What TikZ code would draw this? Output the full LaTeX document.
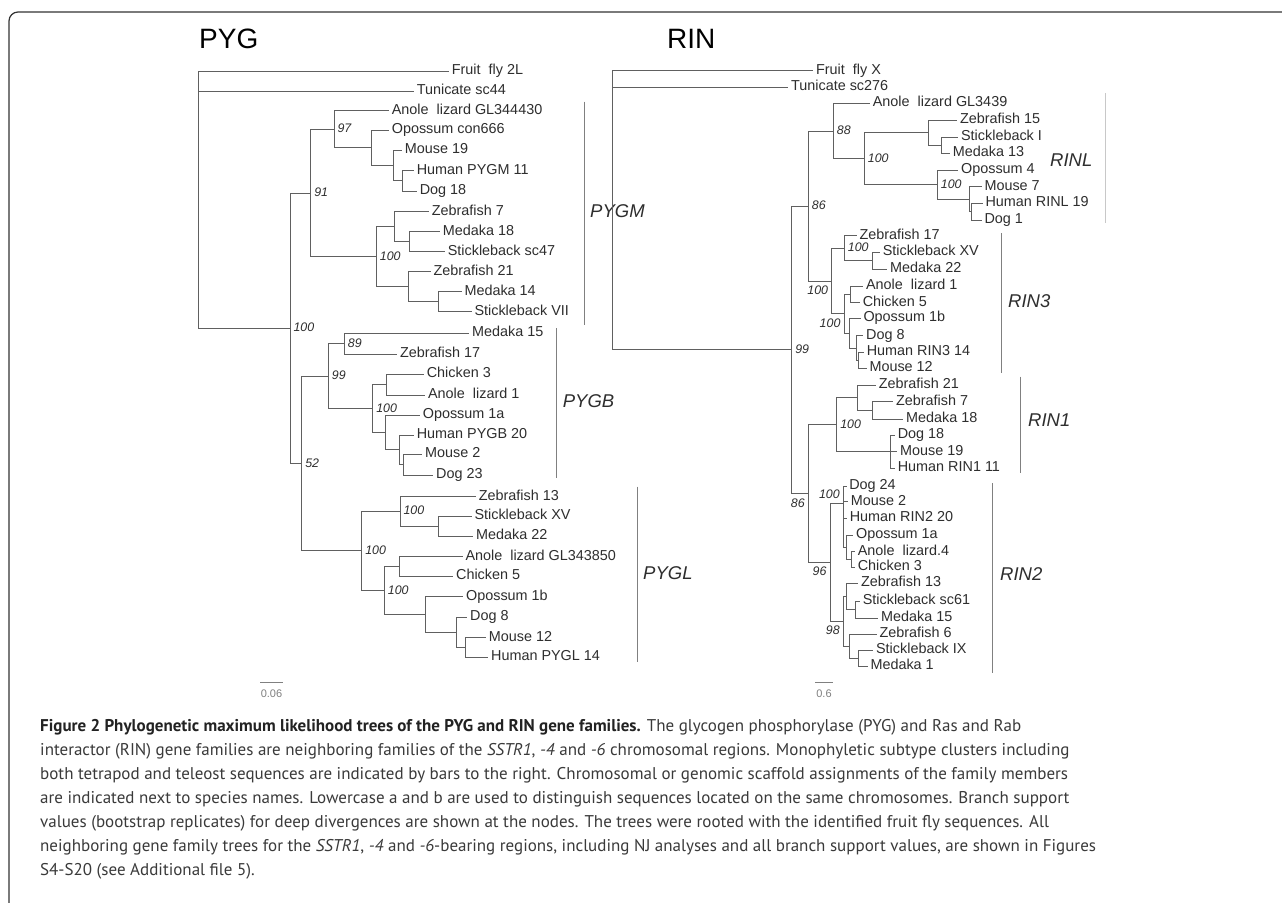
\documentclass[tikz,border=0pt]{standalone}
\usepackage{fontspec}
\setmainfont{Liberation Sans}
\newfontfamily\capfont{PT Sans}
\usetikzlibrary{calc}
\definecolor{treecol}{HTML}{606060}
\definecolor{txtcol}{HTML}{2E2E2E}
\definecolor{barcol}{HTML}{808080}
\definecolor{barlight}{HTML}{C8C8C8}
\definecolor{framecol}{HTML}{333333}
\definecolor{captxt}{HTML}{3A3A3A}
\definecolor{capbold}{HTML}{222222}
\newcommand\inode[4]{%
  \path ($(#3)!.5!(#4)$) coordinate (m#1);
  \coordinate (#1) at (#2,0 |- m#1);
  \draw[br] (#1) |- (#3);
  \draw[br] (#1) |- (#4);
}
\begin{document}
\begin{tikzpicture}[x=1pt,y=-1pt,
  br/.style={draw=treecol,line width=0.9pt},
  leaf/.style={anchor=west,inner xsep=2.6pt,inner ysep=0pt,text height=0.72em,text depth=0pt,font=\fontsize{14.4}{16}\selectfont,text=txtcol},
  bs/.style={inner sep=0.8pt,text height=0.72em,text depth=0pt,font=\fontsize{12.4}{14}\selectfont\itshape,text=txtcol},
  bsr/.style={bs,anchor=west,xshift=2.6pt},
  bsl/.style={bs,anchor=east,xshift=-2.6pt,yshift=-10pt},
  bsa/.style={bs,anchor=east,xshift=-2.6pt,yshift=8.3pt},
  clade/.style={anchor=west,inner sep=0pt,text height=0.72em,text depth=0pt,font=\fontsize{18.5}{20}\selectfont\itshape,text=txtcol},
  cbar/.style={draw=barcol,line width=0.9pt},
  ttlstyle/.style={anchor=base west,inner sep=0pt,font=\fontsize{28}{30}\selectfont,text=black},
  scalelab/.style={inner sep=0pt,font=\fontsize{11}{12}\selectfont,text=barcol},
  capline/.style={anchor=base west,inner sep=0pt,font=\capfont\fontsize{17}{20}\selectfont,text=captxt}
]
\useasboundingbox (0,0) rectangle (1282,902);
\fill[white] (0,0) rectangle (1282,902);
% frame
\draw[framecol,line width=1.2pt,rounded corners=9pt] (1300,12) -- (9,12) -- (9,915);

% titles
\node[ttlstyle] (tPYG) at (199,48) {PYG};
\node[ttlstyle] (tRIN) at (667,48) {RIN};

% ---------------- PYG tree ----------------
\node[leaf] (pA) at (449,71) {Fruit\ \ fly 2L};
\node[leaf] (pB) at (414,91) {Tunicate sc44};
\node[leaf] (pC) at (389,110.7) {Anole\ \ lizard GL344430};
\node[leaf] (pD) at (389,130.3) {Opossum con666};
\node[leaf] (pE) at (402,150.3) {Mouse 19};
\node[leaf] (pF) at (414,170.7) {Human PYGM 11};
\node[leaf] (pG) at (417,191) {Dog 18};
\node[leaf] (pH) at (429,211.7) {Zebrafish 7};
\node[leaf] (pI) at (440,231.7) {Medaka 18};
\node[leaf] (pJ) at (445,251.7) {Stickleback sc47};
\node[leaf] (pK) at (430.7,271.7) {Zebrafish 21};
\node[leaf] (pL) at (461.7,291.7) {Medaka 14};
\node[leaf] (pM) at (471.7,311.7) {Stickleback VII};
\node[leaf] (pN) at (469.3,333.3) {Medaka 15};
\node[leaf] (pO) at (397.3,354.3) {Zebrafish 17};
\node[leaf] (pP) at (424,374.3) {Chicken 3};
\node[leaf] (pQ) at (425.3,395) {Anole\ \ lizard 1};
\node[leaf] (pR) at (420,415) {Opossum 1a};
\node[leaf] (pS) at (414,435) {Human PYGB 20};
\node[leaf] (pT) at (422.3,454.3) {Mouse 2};
\node[leaf] (pU) at (433.3,475) {Dog 23};
\node[leaf] (pV) at (476,496.7) {Zebrafish 13};
\node[leaf] (pW) at (471.7,516) {Stickleback XV};
\node[leaf] (pX) at (473.3,536) {Medaka 22};
\node[leaf] (pY) at (462.7,556.7) {Anole\ \ lizard GL343850};
\node[leaf] (pZ) at (453.3,576.3) {Chicken 5};
\node[leaf] (pAA) at (463.3,596.5) {Opossum 1b};
\node[leaf] (pAB) at (467.3,617) {Dog 8};
\node[leaf] (pAC) at (486,637.5) {Mouse 12};
\node[leaf] (pAD) at (488.3,657.3) {Human PYGL 14};

\inode{q1}{402}{pF.west}{pG.west}
\inode{q2}{393}{pE.west}{q1}
\inode{q3}{371}{pD.west}{q2}
\inode{q4}{334}{pC.west}{q3}
\inode{q5}{409.7}{pI.west}{pJ.west}
\inode{q6}{394}{pH.west}{q5}
\inode{q7}{438.3}{pL.west}{pM.west}
\inode{q8}{408}{pK.west}{q7}
\inode{q9}{376.3}{q6}{q8}
\inode{q10}{310.7}{q4}{q9}
\inode{q11}{344.3}{pN.west}{pO.west}
\inode{q12}{386.7}{pP.west}{pQ.west}
\inode{q13}{403.3}{pT.west}{pU.west}
\inode{q14}{399.3}{pS.west}{q13}
\inode{q15}{385.7}{pR.west}{q14}
\inode{q16}{372.7}{q12}{q15}
\inode{q17}{328.3}{q11}{q16}
\inode{q18}{438.3}{pW.west}{pX.west}
\inode{q19}{400}{pV.west}{q18}
\inode{q20}{399}{pY.west}{pZ.west}
\inode{q21}{465}{pAC.west}{pAD.west}
\inode{q22}{456.7}{pAB.west}{q21}
\inode{q23}{425}{pAA.west}{q22}
\inode{q24}{384.3}{q20}{q23}
\inode{q25}{361.7}{q19}{q24}
\inode{q26}{301.7}{q17}{q25}
\inode{q27}{290}{q10}{q26}
\inode{q0}{198.5}{pA.west}{q27}
\draw[br] (q0) |- (pB.west);

\node[bsr] (lq4) at (q4) {97};
\node[bsr] (lq10) at (q10) {91};
\node[bsr] (lq9) at (q9) {100};
\node[bsr] (lq27) at (q27) {100};
\node[bsr] (lq26) at (q26) {52};
\node[bsr] (lq17) at (q17) {99};
\node[bsr] (lq11) at (q11) {89};
\node[bsr] (lq16) at (q16) {100};
\node[bsr] (lq25) at (q25) {100};
\node[bsr] (lq19) at (q19) {100};
\node[bsr] (lq24) at (q24) {100};

% PYG clade bars
\coordinate (bMt) at (584,101.7); \coordinate (bMb) at (584,325);
\draw[cbar] (bMt) -- (bMb);
\node[clade] (cPYGM) at (590,214) {PYGM};
\coordinate (bBt) at (556.7,328.3); \coordinate (bBb) at (556.7,478.3);
\draw[cbar] (bBt) -- (bBb);
\node[clade] (cPYGB) at (562.7,404) {PYGB};
\coordinate (bLt) at (637.7,486.7); \coordinate (bLb) at (637.7,661.7);
\draw[cbar] (bLt) -- (bLb);
\node[clade] (cPYGL) at (643,576) {PYGL};

% PYG scale
\coordinate (sPa) at (260,682); \coordinate (sPb) at (283,682);
\draw[cbar,line width=0.8pt] (sPa) -- (sPb);
\node[scalelab] (sP) at (271.5,694) {0.06};

% ---------------- RIN tree ----------------
\node[leaf] (rA) at (813.3,70.7) {Fruit\ \ fly X};
\node[leaf] (rB) at (788.3,87.3) {Tunicate sc276};
\node[leaf] (rC) at (870,103.3) {Anole\ \ lizard GL3439};
\node[leaf] (rD) at (957.3,120) {Zebrafish 15};
\node[leaf] (rE) at (958.3,137.3) {Stickleback I};
\node[leaf] (rF) at (950,153.3) {Medaka 13};
\node[leaf] (rG) at (958.3,170) {Opossum 4};
\node[leaf] (rH) at (981.7,186.7) {Mouse 7};
\node[leaf] (rI) at (982.7,203.3) {Human RINL 19};
\node[leaf] (rJ) at (981.7,220) {Dog 1};
\node[leaf] (rK) at (856.7,235.7) {Zebrafish 17};
\node[leaf] (rL) at (880,252.3) {Stickleback XV};
\node[leaf] (rM) at (887.3,269) {Medaka 22};
\node[leaf] (rN) at (863.3,286) {Anole\ \ lizard 1};
\node[leaf] (rO) at (860,302.7) {Chicken 5};
\node[leaf] (rP) at (860.7,318.3) {Opossum 1b};
\node[leaf] (rQ) at (863.3,335.7) {Dog 8};
\node[leaf] (rR) at (864,352.3) {Human RIN3 14};
\node[leaf] (rS) at (866.7,368.3) {Mouse 12};
\node[leaf] (rT) at (876,385) {Zebrafish 21};
\node[leaf] (rU) at (893.3,401.7) {Zebrafish 7};
\node[leaf] (rV) at (903.3,419) {Medaka 18};
\node[leaf] (rW) at (895,435) {Dog 18};
\node[leaf] (rX) at (897.3,451.7) {Mouse 19};
\node[leaf] (rY) at (895,468.3) {Human RIN1 11};
\node[leaf] (rZ) at (846.5,486) {Dog 24};
\node[leaf] (rAA) at (848,501.7) {Mouse 2};
\node[leaf] (rAB) at (847,518.3) {Human RIN2 20};
\node[leaf] (rAC) at (853.3,535) {Opossum 1a};
\node[leaf] (rAD) at (855,551.7) {Anole\ \ lizard.4};
\node[leaf] (rAE) at (855,567.3) {Chicken 3};
\node[leaf] (rAF) at (858.3,583.3) {Zebrafish 13};
\node[leaf] (rAG) at (860,601) {Stickleback sc61};
\node[leaf] (rAH) at (878.3,618.3) {Medaka 15};
\node[leaf] (rAI) at (876.7,634.3) {Zebrafish 6};
\node[leaf] (rAJ) at (873.3,650) {Stickleback IX};
\node[leaf] (rAK) at (867.7,666) {Medaka 1};

\inode{s1}{941.7}{rE.west}{rF.west}
\inode{s2}{928.3}{rD.west}{s1}
\inode{s3}{971.7}{rI.west}{rJ.west}
\inode{s4}{969.3}{rH.west}{s3}
\inode{s5}{937.3}{rG.west}{s4}
\inode{s6}{864.3}{s2}{s5}
\inode{s7}{833.3}{rC.west}{s6}
\inode{s8}{872.7}{rL.west}{rM.west}
\inode{s9}{844.3}{rK.west}{s8}
\inode{s10}{850}{rN.west}{rO.west}
\inode{s11}{858.5}{rR.west}{rS.west}
\inode{s12}{856.7}{rQ.west}{s11}
\inode{s13}{849.3}{rP.west}{s12}
\inode{s14}{844}{s10}{s13}
\inode{s15}{831.7}{s9}{s14}
\inode{s16}{808.3}{s7}{s15}
\inode{s17}{872.7}{rU.west}{rV.west}
\inode{s18}{857.7}{rT.west}{s17}
\inode{s19}{890}{rW.west}{rY.west}
\draw[br] (s19) |- (rX.west);
\inode{s20}{836.7}{s18}{s19}
\inode{s22}{851.7}{rAD.west}{rAE.west}
\inode{s23}{846.7}{rAC.west}{s22}
\coordinate (s24) at (843.3,503.3);
\draw[br] (s24) |- (rZ.west);
\draw[br] (s24) |- (rAA.west);
\draw[br] (s24) |- (rAB.west);
\draw[br] (s24) |- (s23);
\inode{s25}{858}{rAJ.west}{rAK.west}
\inode{s26}{849.3}{rAI.west}{s25}
\inode{s27}{855}{rAG.west}{rAH.west}
\inode{s28}{846}{rAF.west}{s27}
\inode{s29}{843.3}{s28}{s26}
\inode{s30}{830}{s24}{s29}
\inode{s31}{808.3}{s20}{s30}
\inode{s32}{791.7}{s16}{s31}
\inode{s0}{612}{rA.west}{s32}
\draw[br] (s0) |- (rB.west);

\node[bsr] (ls5) at (s5) {100};
\node[bsr] (ls6) at (s6) {100};
\node[bsr] (ls7) at (s7) {88};
\node[bsr] (ls16) at (s16) {86};
\node[bsr] (ls9) at (s9) {100};
\node[bsr] (ls32) at (s32) {99};
\node[bsr] (ls20) at (s20) {100};
\node[bsl] (ls15) at (s15) {100};
\node[bsl] (ls14) at (s14) {100};
\node[bsl] (ls31) at (s31) {86};
\node[bsl] (ls30) at (s30) {96};
\node[bsl] (ls29) at (s29) {98};
\node[bsa] (ls24) at (s24) {100};

% RIN clade bars
\coordinate (bRLt) at (1105,93); \coordinate (bRLb) at (1105,223);
\draw[draw=barlight,line width=0.9pt] (bRLt) -- (bRLb);
\node[clade] (cRINL) at (1050,162.7) {RINL};
\coordinate (bR3t) at (1001.7,233.3); \coordinate (bR3b) at (1001.7,373.3);
\draw[cbar] (bR3t) -- (bR3b);
\node[clade] (cRIN3) at (1008,304) {RIN3};
\coordinate (bR1t) at (1020.7,376.7); \coordinate (bR1b) at (1020.7,473.3);
\draw[cbar] (bR1t) -- (bR1b);
\node[clade] (cRIN1) at (1028,423.3) {RIN1};
\coordinate (bR2t) at (992.7,483.3); \coordinate (bR2b) at (992.7,673);
\draw[cbar] (bR2t) -- (bR2b);
\node[clade] (cRIN2) at (1000,576.7) {RIN2};

% RIN scale
\coordinate (sRa) at (815,682); \coordinate (sRb) at (833,682);
\draw[cbar,line width=0.8pt] (sRa) -- (sRb);
\node[scalelab] (sR) at (824,694) {0.6};

% ---------------- caption ----------------
\node[capline] (c1) at (40,731) {{\color{capbold}\bfseries Figure 2 Phylogenetic maximum likelihood trees of the PYG and RIN gene families.} The glycogen phosphorylase (PYG) and Ras and Rab};
\node[capline] (c2) at (40,755) {interactor (RIN) gene families are neighboring families of the \textit{SSTR1}, \textit{-4} and \textit{-6} chromosomal regions. Monophyletic subtype clusters including};
\node[capline] (c3) at (40,779) {both tetrapod and teleost sequences are indicated by bars to the right. Chromosomal or genomic scaffold assignments of the family members};
\node[capline] (c4) at (40,803) {are indicated next to species names. Lowercase a and b are used to distinguish sequences located on the same chromosomes. Branch support};
\node[capline] (c5) at (40,827) {values (bootstrap replicates) for deep divergences are shown at the nodes. The trees were rooted with the identified fruit fly sequences. All};
\node[capline] (c6) at (40,851) {neighboring gene family trees for the \textit{SSTR1}, \textit{-4} and \textit{-6}-bearing regions, including NJ analyses and all branch support values, are shown in Figures};
\node[capline] (c7) at (40,875) {S4-S20 (see Additional file 5).};
\end{tikzpicture}
\end{document}
